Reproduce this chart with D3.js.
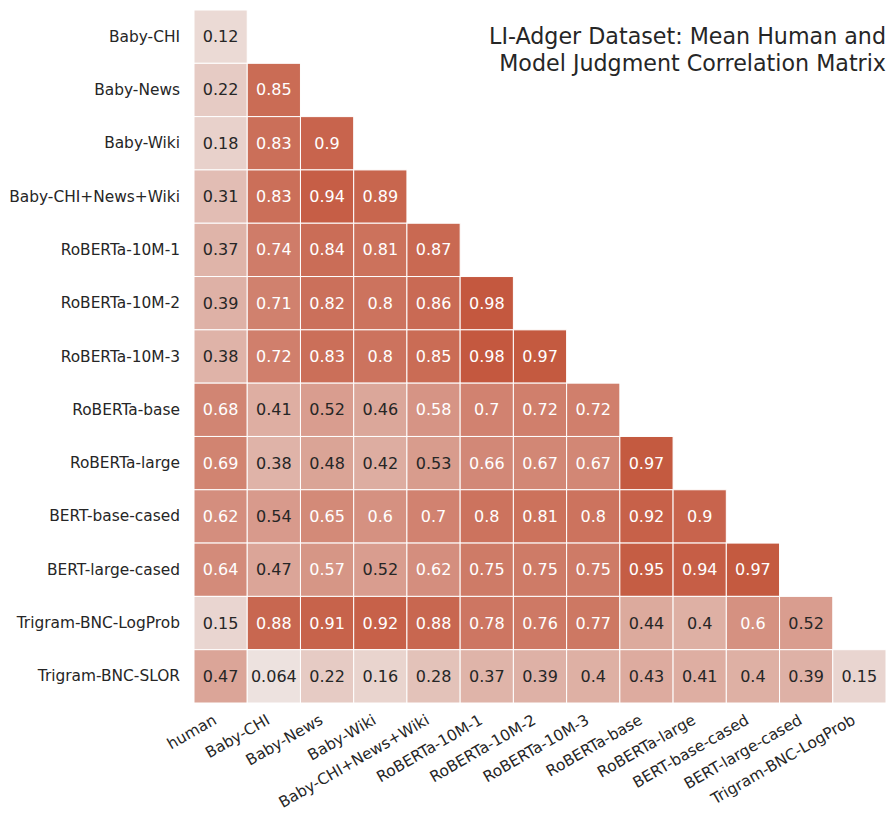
<!DOCTYPE html>
<html>
<head>
<meta charset="utf-8">
<script src="https://cdn.jsdelivr.net/npm/d3@7"></script>
<style>
  body { margin: 0; background: #fff; }
  text { font-family: "DejaVu Sans", sans-serif; fill: #262626; }
</style>
</head>
<body>
<div class="visualisation"></div>
<script>
var rowNames = ["Baby-CHI", "Baby-News", "Baby-Wiki", "Baby-CHI+News+Wiki", "RoBERTa-10M-1", "RoBERTa-10M-2",
  "RoBERTa-10M-3", "RoBERTa-base", "RoBERTa-large", "BERT-base-cased", "BERT-large-cased",
  "Trigram-BNC-LogProb", "Trigram-BNC-SLOR"];
var colNames = ["human", "Baby-CHI", "Baby-News", "Baby-Wiki", "Baby-CHI+News+Wiki", "RoBERTa-10M-1", "RoBERTa-10M-2",
  "RoBERTa-10M-3", "RoBERTa-base", "RoBERTa-large", "BERT-base-cased", "BERT-large-cased", "Trigram-BNC-LogProb"];

// lower triangle, one row per model
var values = [
  [0.12],
  [0.22, 0.85],
  [0.18, 0.83, 0.9],
  [0.31, 0.83, 0.94, 0.89],
  [0.37, 0.74, 0.84, 0.81, 0.87],
  [0.39, 0.71, 0.82, 0.8, 0.86, 0.98],
  [0.38, 0.72, 0.83, 0.8, 0.85, 0.98, 0.97],
  [0.68, 0.41, 0.52, 0.46, 0.58, 0.7, 0.72, 0.72],
  [0.69, 0.38, 0.48, 0.42, 0.53, 0.66, 0.67, 0.67, 0.97],
  [0.62, 0.54, 0.65, 0.6, 0.7, 0.8, 0.81, 0.8, 0.92, 0.9],
  [0.64, 0.47, 0.57, 0.52, 0.62, 0.75, 0.75, 0.75, 0.95, 0.94, 0.97],
  [0.15, 0.88, 0.91, 0.92, 0.88, 0.78, 0.76, 0.77, 0.44, 0.4, 0.6, 0.52],
  [0.47, 0.064, 0.22, 0.16, 0.28, 0.37, 0.39, 0.4, 0.43, 0.41, 0.4, 0.39, 0.15]
];

var titleLines = ["LI-Adger Dataset: Mean Human and", "Model Judgment Correlation Matrix"];

var width = 896;
var height = 824;
var gridLeft = 194, gridRight = 886, gridTop = 10, gridBottom = 703;

var svg = d3.select(".visualisation").append("svg")
    .attr("width", width)
    .attr("height", height)
    .attr("display", "block");

var x = d3.scaleBand().domain(d3.range(colNames.length)).range([gridLeft, gridRight]);
var y = d3.scaleBand().domain(d3.range(rowNames.length)).range([gridTop, gridBottom]);

var color = d3.scaleLinear().domain([0, 1]).range(["#f0ecea", "#c3553b"]);

var cells = [];
values.forEach(function(row, i) {
  row.forEach(function(v, j) {
    cells.push({r: i, c: j, v: v});
  });
});

svg.selectAll("rect.cell").data(cells).enter().append("rect")
    .attr("class", "cell")
    .attr("x", function(d){ return x(d.c); })
    .attr("y", function(d){ return y(d.r); })
    .attr("width", x.bandwidth())
    .attr("height", y.bandwidth())
    .attr("fill", function(d){ return color(d.v); })
    .attr("stroke", "#fff")
    .attr("stroke-width", 1);

svg.selectAll("text.annot").data(cells).enter().append("text")
    .attr("class", "annot")
    .attr("x", function(d){ return x(d.c) + x.bandwidth() / 2; })
    .attr("y", function(d){ return y(d.r) + y.bandwidth() / 2; })
    .attr("text-anchor", "middle")
    .attr("dominant-baseline", "central")
    .style("font-size", "16px")
    .style("fill", function(d){ return d.v >= 0.56 ? "#ffffff" : "#262626"; })
    .text(function(d){ return String(d.v); });

// y tick labels
svg.selectAll("text.ylab").data(rowNames).enter().append("text")
    .attr("class", "ylab")
    .attr("x", gridLeft - 14)
    .attr("y", function(d, i){ return y(i) + y.bandwidth() / 2; })
    .attr("text-anchor", "end")
    .attr("dominant-baseline", "central")
    .style("font-size", "15.4px")
    .text(function(d){ return d; });

// x tick labels, rotated
svg.selectAll("text.xlab").data(colNames).enter().append("text")
    .attr("class", "xlab")
    .attr("text-anchor", "end")
    .attr("transform", function(d, i){
      var cx = x(i) + x.bandwidth() / 2 - 3;
      return "translate(" + cx + "," + (gridBottom + 20) + ") rotate(-30)";
    })
    .style("font-size", "15.4px")
    .text(function(d){ return d; });

svg.selectAll("text.title").data(titleLines).enter().append("text")
    .attr("class", "title")
    .attr("x", gridRight)
    .attr("y", function(d, i){ return 44 + i * 27; })
    .attr("text-anchor", "end")
    .style("font-size", "22.2px")
    .text(function(d){ return d; });
</script>
</body>
</html>
